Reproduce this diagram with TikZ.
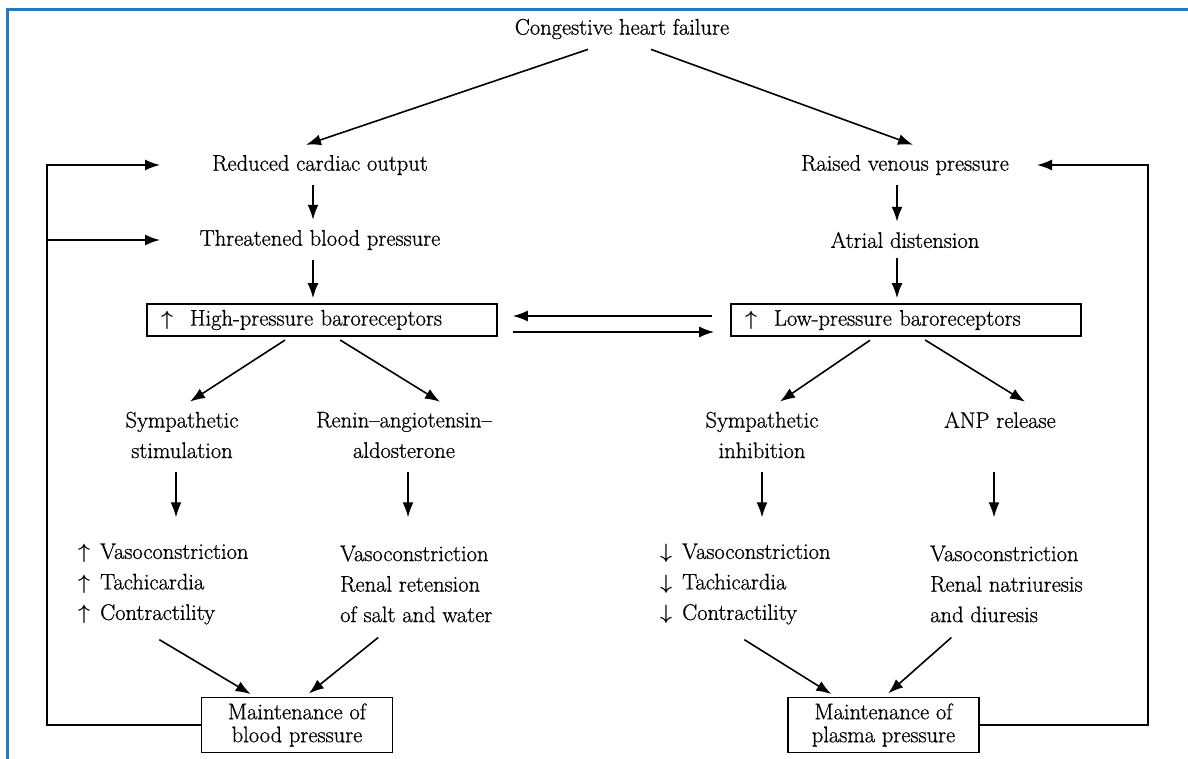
\documentclass[tikz,border=0pt]{standalone}
\usepackage{amsmath}
\usepackage{amssymb}
\usepackage{fontspec}
\setmainfont{Latin Modern Roman}[FakeBold=0.8]
\usepackage{tikz}
\usetikzlibrary{arrows.meta}
\definecolor{frameblue}{RGB}{38,122,196}
\tikzset{
  txt/.style={inner xsep=2pt,inner ysep=10pt,align=center},
  lst/.style={inner xsep=2pt,inner ysep=15pt,align=left,anchor=west},
  recbox/.style={draw,line width=1.7pt,minimum width=350pt,minimum height=32pt,
    inner xsep=14pt,inner ysep=3pt,text width=322pt,align=left},
  endbox/.style={draw,line width=1.7pt,minimum width=191pt,minimum height=55pt,
    inner sep=3pt,align=center,font=\fontsize{22.5}{23}\selectfont},
  arr/.style={line width=1.6pt,-{Latex[length=15pt,width=11pt]}},
  link/.style={line width=1.6pt}
}
\newcommand{\up}{\makebox[22pt][l]{$\boldsymbol{\uparrow}$}}
\newcommand{\dn}{\makebox[22pt][l]{$\boldsymbol{\downarrow}$}}

\begin{document}
\begin{tikzpicture}[x=1pt,y=-1pt,font=\fontsize{22.5}{30.5}\selectfont]
      \useasboundingbox (0,0) rectangle (1188,759);
      \draw[frameblue,line width=3pt] (7,759) -- (7,10) -- (1188,10);

      \node[txt] (chf) at (622,29) {Congestive heart failure};

      %% high-pressure side
      \node[txt] (rco) at (320,165) {Reduced cardiac output};
      \node[txt] (tbp) at (320,240) {Threatened blood pressure};
      \node[recbox] (hpb) at (322,320) {\makebox[29pt][l]{$\boldsymbol{\uparrow}$}High-pressure baroreceptors};
      \node[txt] (symstim) at (182,435) {Sympathetic\\stimulation};
      \node[txt] (raas) at (404,435) {Renin--angiotensin--\\aldosterone};
      \node[lst] (uplist) at (76,584) {\up Vasoconstriction\\\up Tachicardia\\\up Contractility};
      \node[lst] (raaslist) at (338,584) {Vasoconstriction\\Renal retension\\of salt and water};
      \node[endbox] (bp) at (297,725) {Maintenance of\\blood pressure};

      %% low-pressure side
      \node[txt] (rvp) at (905,165) {Raised venous pressure};
      \node[txt] (ad) at (905,240) {Atrial distension};
      \node[recbox] (lpb) at (906,320) {\makebox[29pt][l]{$\boldsymbol{\uparrow}$}Low-pressure baroreceptors};
      \node[txt] (symin) at (762,435) {Sympathetic\\inhibition};
      \node[txt] (anp) at (1000,420) {ANP release};
      \node[lst] (dnlist) at (658,584) {\dn Vasoconstriction\\\dn Tachicardia\\\dn Contractility};
      \node[lst] (anplist) at (928,584) {Vasoconstriction\\Renal natriuresis\\and diuresis};
      \node[endbox] (pp) at (883.5,725) {Maintenance of\\plasma pressure};

      \draw[arr] ([xshift=-34pt]chf.south) -- ([xshift=-14pt]rco.north);
      \draw[arr] ([xshift=29pt]chf.south) -- ([xshift=8pt]rvp.north);

      \draw[arr] ([xshift=-7pt]rco.south) -- ([xshift=-7pt]tbp.north);
      \draw[arr,shorten >=5pt] ([xshift=-7pt]tbp.south) -- ([xshift=-9pt]hpb.north);
      \draw[arr] ([xshift=-8pt]rvp.south) -- ([xshift=-8pt]ad.north);
      \draw[arr,shorten >=5pt] ([xshift=-8pt]ad.south) -- ([xshift=-9pt]lpb.north);

      \draw[arr,shorten <=18pt,shorten >=15pt] ([yshift=4pt]lpb.west) -- ([yshift=4pt]hpb.east);
      \draw[arr,shorten <=15pt,shorten >=16pt] ([yshift=-12pt]hpb.east) -- ([yshift=-12pt]lpb.west);

      \draw[arr,shorten <=6pt] ([xshift=-32pt]hpb.south) -- ([xshift=8pt]symstim.north);
      \draw[arr,shorten <=6pt] ([xshift=13pt]hpb.south) -- ([xshift=36pt]raas.north);
      \draw[arr,shorten <=6pt] ([xshift=-31pt]lpb.south) -- ([xshift=18pt]symin.north);
      \draw[arr,shorten <=6pt] ([xshift=14pt]lpb.south) -- ([xshift=25pt]anp.north);

      \draw[arr,shorten <=4pt,shorten >=11pt] ([xshift=-6pt]symstim.south) -- ([xshift=-6pt]symstim.south |- uplist.north);
      \draw[arr,shorten <=4pt,shorten >=11pt] ([xshift=4pt]raas.south) -- ([xshift=4pt]raas.south |- uplist.north);
      \draw[arr,shorten <=4pt,shorten >=11pt] (symin.south) -- (symin.south |- dnlist.north);
      \draw[arr,shorten <=34pt,shorten >=11pt] ([xshift=-6pt]anp.south) -- ([xshift=-6pt]anp.south |- dnlist.north);

      \draw[arr,shorten >=5pt] ([xshift=-4pt]uplist.south) -- ([xshift=-42pt]bp.north);
      \draw[arr,shorten >=5pt] ([xshift=-38pt]raaslist.south) -- ([xshift=8pt]bp.north);
      \draw[arr,shorten >=5pt] ([xshift=-1pt]dnlist.south) -- ([xshift=-48pt]pp.north);
      \draw[arr,shorten >=5pt] ([xshift=-55pt]anplist.south) -- ([xshift=1pt]pp.north);

      %% feedback loops
      \draw[arr] (bp.west) -| ([xshift=-273pt]rco.center) -- ([xshift=-160pt]rco.center);
      \draw[arr] ([xshift=-273pt]tbp.center) -- ([xshift=-160pt]tbp.center);
      \draw[arr] (pp.east) -| ([xshift=243pt]rvp.center) -- ([xshift=132pt]rvp.center);
\end{tikzpicture}
\end{document}
